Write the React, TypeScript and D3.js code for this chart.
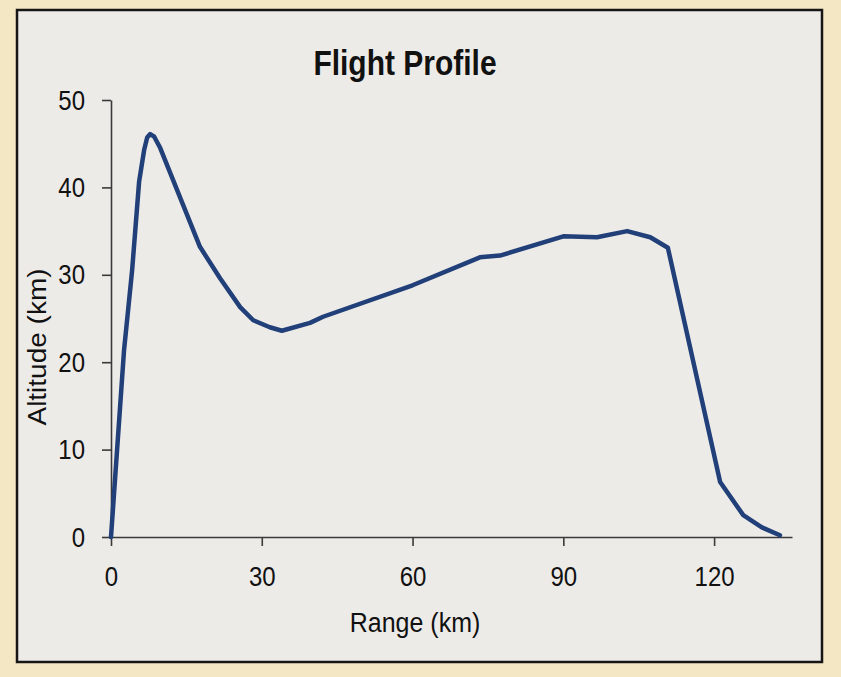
import { useEffect, useRef } from "react";
import * as d3 from "d3";

// Flight profile: range vs altitude, both in km
const rangeKm = [
  0, 2.6, 4.2, 5.6, 6.6, 7.2, 7.8, 8.6, 9.8, 17.7, 21.7, 25.7, 28.3, 31.6,
  34.0, 39.6, 42.2, 60, 73.4, 77.4, 90, 96.7, 102.7, 107.3, 110.8, 121.2,
  125.8, 129.5, 133.1,
];
const altitudeKm = [
  0, 21.4, 30.5, 40.7, 44.3, 45.7, 46.1, 45.8, 44.5, 33.2, 29.6, 26.3, 24.8,
  24.0, 23.6, 24.5, 25.2, 28.8, 32.0, 32.2, 34.4, 34.3, 35.0, 34.3, 33.1, 6.3,
  2.5, 1.1, 0.2,
];
const xTicks = [0, 30, 60, 90, 120];
const yTicks = [0, 10, 20, 30, 40, 50];

const W = 841;
const H = 677;
const FONT = "'Liberation Sans', Arial, sans-serif";
const STRETCH = 1.12;

export default function App() {
  const svgRef = useRef<SVGSVGElement>(null);

  useEffect(() => {
    const svg = d3.select(svgRef.current);
    svg.selectAll("*").remove();

    svg.append("rect").attr("width", W).attr("height", H).attr("fill", "#f3e7c4");
    svg
      .append("rect")
      .attr("x", 17)
      .attr("y", 10)
      .attr("width", 805)
      .attr("height", 652)
      .attr("fill", "#edebe8")
      .attr("stroke", "#161616")
      .attr("stroke-width", 2.5);

    const x = d3.scaleLinear().domain([0, 135.5]).range([111, 792]);
    const y = d3.scaleLinear().domain([0, 50]).range([537, 100]);

    const xAxis = svg
      .append("g")
      .attr("transform", `translate(0,${y(0)})`)
      .call(d3.axisBottom(x).tickValues(xTicks).tickSize(9).tickSizeOuter(0).tickFormat(d3.format("d")));
    const yAxis = svg
      .append("g")
      .attr("transform", `translate(${x(0)},0)`)
      .call(d3.axisLeft(y).tickValues(yTicks).tickSize(9).tickSizeOuter(0).tickFormat(d3.format("d")));

    [xAxis, yAxis].forEach((g) => {
      g.select(".domain").attr("stroke", "#3a3a3a").attr("stroke-width", 1.6);
      g.selectAll(".tick line").attr("stroke", "#3a3a3a").attr("stroke-width", 1.6);
      g.selectAll(".tick text")
        .attr("fill", "#111")
        .style("font-family", FONT)
        .style("font-size", "24px");
    });
    xAxis
      .selectAll(".tick text")
      .attr("y", 0)
      .attr("dy", 0)
      .attr("transform", `translate(0,49) scale(1,${STRETCH})`);
    yAxis
      .selectAll(".tick text")
      .attr("x", 0)
      .attr("dy", 0)
      .attr("transform", `translate(-26,9) scale(1,${STRETCH})`);

    const pts = rangeKm.map((r, i) => [r, altitudeKm[i]] as [number, number]);
    const line = d3
      .line<[number, number]>()
      .x((d) => x(d[0]))
      .y((d) => y(d[1]));

    svg
      .append("path")
      .datum(pts)
      .attr("d", line)
      .attr("fill", "none")
      .attr("stroke", "#213f78")
      .attr("stroke-width", 4.5)
      .attr("stroke-linejoin", "round")
      .attr("stroke-linecap", "round");

    svg
      .append("text")
      .attr("transform", `translate(405,75) scale(1,1.15)`)
      .attr("text-anchor", "middle")
      .style("font-family", FONT)
      .style("font-weight", "bold")
      .style("font-size", "30px")
      .attr("fill", "#111")
      .text("Flight Profile");

    svg
      .append("text")
      .attr("transform", `translate(415,632) scale(1,${STRETCH})`)
      .attr("text-anchor", "middle")
      .style("font-family", FONT)
      .style("font-size", "25px")
      .attr("fill", "#111")
      .text("Range (km)");

    svg
      .append("text")
      .attr("transform", `translate(46,347) rotate(-90) scale(${STRETCH},1)`)
      .attr("text-anchor", "middle")
      .style("font-family", FONT)
      .style("font-size", "25px")
      .attr("fill", "#111")
      .text("Altitude (km)");
  }, []);

  return (
    <svg
      ref={svgRef}
      width={W}
      height={H}
      style={{ position: "fixed", left: 0, top: 0, display: "block" }}
    />
  );
}
